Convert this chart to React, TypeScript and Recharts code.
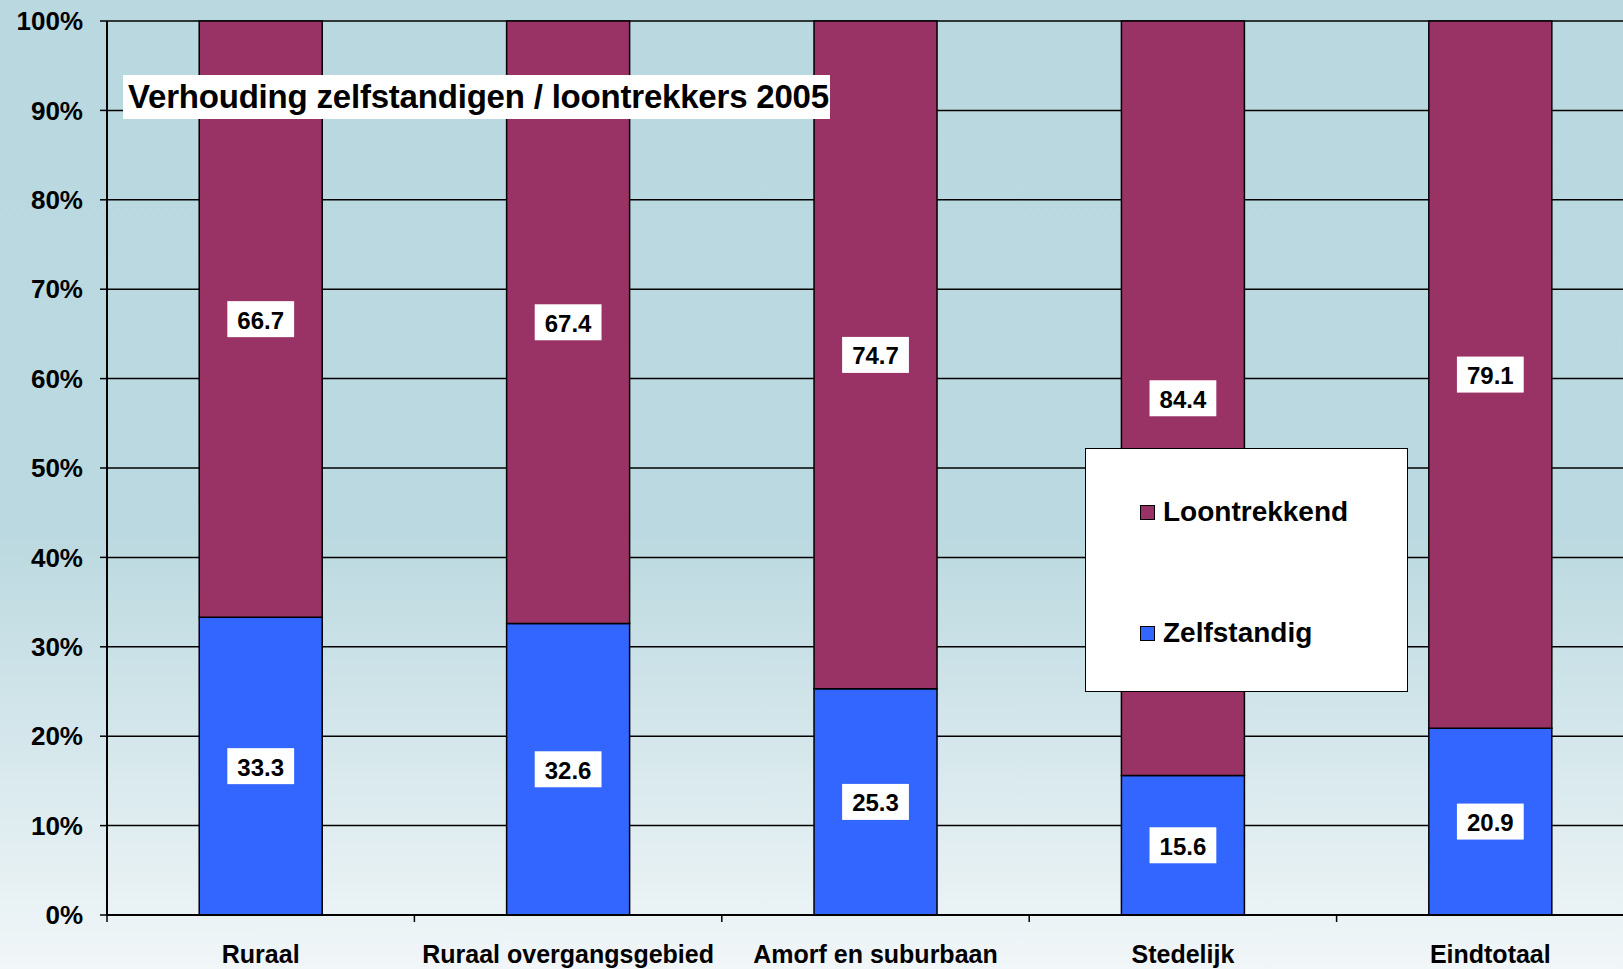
import { Bar, BarChart, CartesianGrid, LabelList, XAxis, YAxis } from 'recharts';

const CATEGORIES = [
  'Ruraal',
  'Ruraal overgangsgebied',
  'Amorf en suburbaan',
  'Stedelijk',
  'Eindtotaal',
];
const ZELFSTANDIG = [33.3, 32.6, 25.3, 15.6, 20.9];
const LOONTREKKEND = [66.7, 67.4, 74.7, 84.4, 79.1];
const Y_TICKS = [0, 10, 20, 30, 40, 50, 60, 70, 80, 90, 100];

const SERIES = [
  { key: 'loon', name: 'Loontrekkend', color: '#993366' },
  { key: 'zelf', name: 'Zelfstandig', color: '#3366FF' },
] as const;

const TITLE = 'Verhouding zelfstandigen / loontrekkers 2005';

const FONT = '"Liberation Sans", Arial, sans-serif';

// plot sits from x=107 to 1644 (runs past the right edge, like the original)
const CHART_W = 1660;
const CHART_H = 969;
const Y_AXIS_W = 107;
const MARGIN = { top: 21, right: 16, bottom: 0, left: 0 };
const PLOT_W = CHART_W - MARGIN.left - MARGIN.right - Y_AXIS_W;
const BAND = PLOT_W / CATEGORIES.length;

const data = CATEGORIES.map((name, i) => ({
  name,
  zelf: ZELFSTANDIG[i],
  loon: LOONTREKKEND[i],
}));

function CategoryTick(props: any) {
  const { x, y, payload, index } = props;
  const half = BAND / 2;
  return (
    <g>
      <line x1={x - half} x2={x - half} y1={y} y2={y + 7} stroke="#000" strokeWidth={1.5} />
      {index === CATEGORIES.length - 1 && (
        <line x1={x + half} x2={x + half} y1={y} y2={y + 7} stroke="#000" strokeWidth={1.5} />
      )}
      <text
        x={x}
        y={y + 48}
        textAnchor="middle"
        fill="#000"
        fontFamily={FONT}
        fontWeight="bold"
        fontSize={25}
      >
        {payload.value}
      </text>
    </g>
  );
}

function ValueBox(props: any) {
  const { x, y, width, height, value } = props;
  if (value == null) return null;
  const label = Number(value).toFixed(1);
  const cx = x + width / 2;
  const cy = y + height / 2;
  const w = label.length * 12.2 + 18;
  const h = 36;
  return (
    <g>
      <rect x={cx - w / 2} y={cy - h / 2} width={w} height={h} fill="#fff" />
      <text
        x={cx}
        y={cy + 1}
        textAnchor="middle"
        dominantBaseline="central"
        fill="#000"
        fontFamily={FONT}
        fontWeight="bold"
        fontSize={24}
      >
        {label}
      </text>
    </g>
  );
}

export default function App() {
  return (
    <div
      style={{
        position: 'fixed',
        left: 0,
        top: 0,
        width: 1623,
        height: 969,
        overflow: 'hidden',
        background: 'linear-gradient(to bottom, #B9D8DF 0%, #BBD9E0 55%, #F1F6F8 100%)',
        fontFamily: FONT,
      }}
    >
      <BarChart
        width={CHART_W}
        height={CHART_H}
        data={data}
        margin={MARGIN}
        barCategoryGap="30%"
      >
        <CartesianGrid vertical={false} stroke="#000" strokeWidth={1.5} />
        <XAxis
          dataKey="name"
          height={54}
          interval={0}
          tickLine={false}
          tickSize={0}
          tickMargin={0}
          axisLine={{ stroke: '#000', strokeWidth: 2 }}
          tick={<CategoryTick />}
        />
        <YAxis
          width={Y_AXIS_W}
          domain={[0, 100]}
          ticks={Y_TICKS}
          interval={0}
          tickSize={7}
          tickMargin={17}
          tickLine={{ stroke: '#000', strokeWidth: 1.5 }}
          axisLine={{ stroke: '#000', strokeWidth: 2 }}
          tickFormatter={(v) => `${v}%`}
          tick={{ fill: '#000', fontSize: 26, fontWeight: 'bold', fontFamily: FONT }}
        />
        <Bar
          dataKey="zelf"
          name="Zelfstandig"
          stackId="a"
          fill="#3366FF"
          stroke="#000"
          strokeWidth={1.5}
          isAnimationActive={false}
        >
          <LabelList dataKey="zelf" content={<ValueBox />} />
        </Bar>
        <Bar
          dataKey="loon"
          name="Loontrekkend"
          stackId="a"
          fill="#993366"
          stroke="#000"
          strokeWidth={1.5}
          isAnimationActive={false}
        >
          <LabelList dataKey="loon" content={<ValueBox />} />
        </Bar>
      </BarChart>

      {/* title box */}
      <div
        style={{
          position: 'absolute',
          left: 123,
          top: 75,
          width: 707,
          height: 44,
          background: '#fff',
          color: '#000',
          fontWeight: 'bold',
          fontSize: 33,
          lineHeight: '44px',
          paddingLeft: 5,
          boxSizing: 'border-box',
          whiteSpace: 'nowrap',
          letterSpacing: -0.2,
        }}
      >
        {TITLE}
      </div>

      {/* legend */}
      <div
        style={{
          position: 'absolute',
          left: 1085,
          top: 448,
          width: 323,
          height: 244,
          background: '#fff',
          border: '1.5px solid #000',
          boxSizing: 'border-box',
        }}
      >
        {SERIES.map((s, i) => (
          <div
            key={s.key}
            style={{
              position: 'absolute',
              left: 54,
              top: 46 + i * 121,
              display: 'flex',
              alignItems: 'center',
              gap: 8,
              fontSize: 28,
              fontWeight: 'bold',
              color: '#000',
              lineHeight: '34px',
            }}
          >
            <span
              style={{
                display: 'inline-block',
                width: 15,
                height: 15,
                background: s.color,
                border: '1.5px solid #000',
                boxSizing: 'border-box',
              }}
            />
            {s.name}
          </div>
        ))}
      </div>
    </div>
  );
}
